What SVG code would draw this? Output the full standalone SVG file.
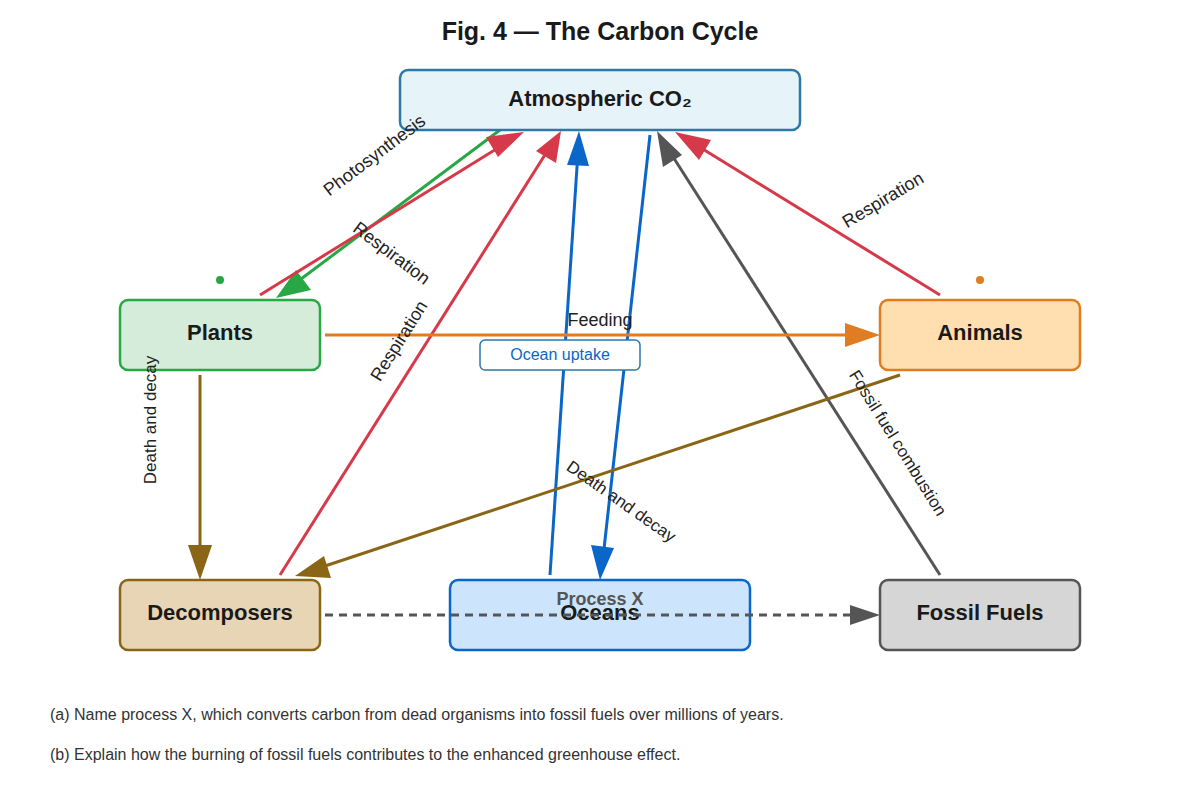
<svg xmlns="http://www.w3.org/2000/svg" width="1200" height="800" viewBox="0 0 1200 800">
<style>
text{font-family:"Liberation Sans",Arial,sans-serif}
.nt{font-size:22px;font-weight:bold;fill:#1a1a1a;text-anchor:middle}
.lb{font-size:17px;fill:#222;text-anchor:middle}
.q{font-size:16px;fill:#333}
line{stroke-width:3;fill:none}
</style>
<rect width="1200" height="800" fill="#fff"/>
<text x="600" y="40" class="nt" style="font-size:25px">Fig. 4 — The Carbon Cycle</text>
<g id="connectors">
<line x1="500" y1="130" x2="293" y2="285" stroke="#28a745"/><polygon points="276,298 296,270 311,290" fill="#28a745"/>
<line x1="260" y1="295" x2="506" y2="143" stroke="#d63a4a"/><polygon points="524,132 498,157 486,137" fill="#d63a4a"/>
<line x1="280" y1="575" x2="548" y2="150" stroke="#d63a4a"/><polygon points="561,131 556,163 536,151" fill="#d63a4a"/>
<line x1="550" y1="575" x2="578" y2="152" stroke="#0a66c8"/><polygon points="579,131 589,166 567,165" fill="#0a66c8"/>
<line x1="650" y1="135" x2="603" y2="558" stroke="#0a66c8"/><polygon points="600,580 591,545 614,548" fill="#0a66c8"/>
<line x1="940" y1="575" x2="668" y2="149" stroke="#555"/><polygon points="657,131 682,155 663,167" fill="#555"/>
<line x1="940" y1="295" x2="693" y2="143" stroke="#d63a4a"/><polygon points="675,132 711,140 699,160" fill="#d63a4a"/>
<line x1="325" y1="335" x2="858" y2="335" stroke="#e07c22"/><polygon points="880,335 845,323 845,347" fill="#e07c22"/>
<line x1="200" y1="375" x2="200" y2="558" stroke="#8a6516"/><polygon points="200,580 188,545 212,545" fill="#8a6516"/>
<line x1="900" y1="375" x2="316" y2="569" stroke="#8a6516"/><polygon points="295,576 324,556 331,578" fill="#8a6516"/>
</g>
<g id="atm"><rect x="400" y="70" width="400" height="60" rx="8" fill="#e6f3f8" stroke="#2e78a8" stroke-width="2.5"/><text x="600" y="106" class="nt">Atmospheric CO₂</text></g>
<g id="plants"><rect x="120" y="300" width="200" height="70" rx="8" fill="#d4ecd9" stroke="#28a745" stroke-width="2.5"/><text x="220" y="340" class="nt">Plants</text><circle cx="220" cy="280" r="4" fill="#28a745"/></g>
<g id="animals"><rect x="880" y="300" width="200" height="70" rx="8" fill="#ffdfb0" stroke="#e07c22" stroke-width="2.5"/><text x="980" y="340" class="nt">Animals</text><circle cx="980" cy="280" r="4" fill="#e07c22"/></g>
<g id="decomposers"><rect x="120" y="580" width="200" height="70" rx="8" fill="#e8d5b5" stroke="#8a6516" stroke-width="2.5"/><text x="220" y="620" class="nt">Decomposers</text></g>
<g id="oceans"><rect x="450" y="580" width="300" height="70" rx="8" fill="#cce5fc" stroke="#0a66c8" stroke-width="2.5"/><text x="600" y="620" class="nt">Oceans</text></g>
<g id="fossil"><rect x="880" y="580" width="200" height="70" rx="8" fill="#d6d6d6" stroke="#555" stroke-width="2.5"/><text x="980" y="620" class="nt">Fossil Fuels</text></g>
<g id="dashed">
<line x1="325" y1="615" x2="858" y2="615" stroke="#555" stroke-width="2.5" stroke-dasharray="8,6"/><polygon points="880,615 850,605 850,625" fill="#555"/>
<text x="600" y="605" class="lb" font-weight="bold" style="fill:#555;font-size:18px">Process X</text>
</g>
<g id="labels">
<text class="lb" transform="translate(378,160) rotate(-37)" style="font-size:18px">Photosynthesis</text>
<text class="lb" transform="translate(388,258) rotate(37)" style="font-size:18px">Respiration</text>
<text class="lb" transform="translate(404,344) rotate(-58)" style="font-size:18px">Respiration</text>
<text class="lb" transform="translate(886,205) rotate(-31)" style="font-size:18px">Respiration</text>
<text class="lb" x="600" y="326" style="font-size:18px">Feeding</text>
<text class="lb" transform="translate(156,420) rotate(-90)" font-size="16">Death and decay</text>
<text class="lb" transform="translate(618,506) rotate(35)" font-size="16">Death and decay</text>
<text class="lb" transform="translate(893,446) rotate(58)" font-size="16">Fossil fuel combustion</text>
<rect x="480" y="340" width="160" height="30" rx="5" fill="#fff" stroke="#2e78a8" stroke-width="1.5"/>
<text x="560" y="360" class="lb" style="fill:#0a66c8;font-size:16px">Ocean uptake</text>
</g>
<text x="50" y="720" class="q">(a) Name process X, which converts carbon from dead organisms into fossil fuels over millions of years.</text>
<text x="50" y="760" class="q">(b) Explain how the burning of fossil fuels contributes to the enhanced greenhouse effect.</text>
</svg>
